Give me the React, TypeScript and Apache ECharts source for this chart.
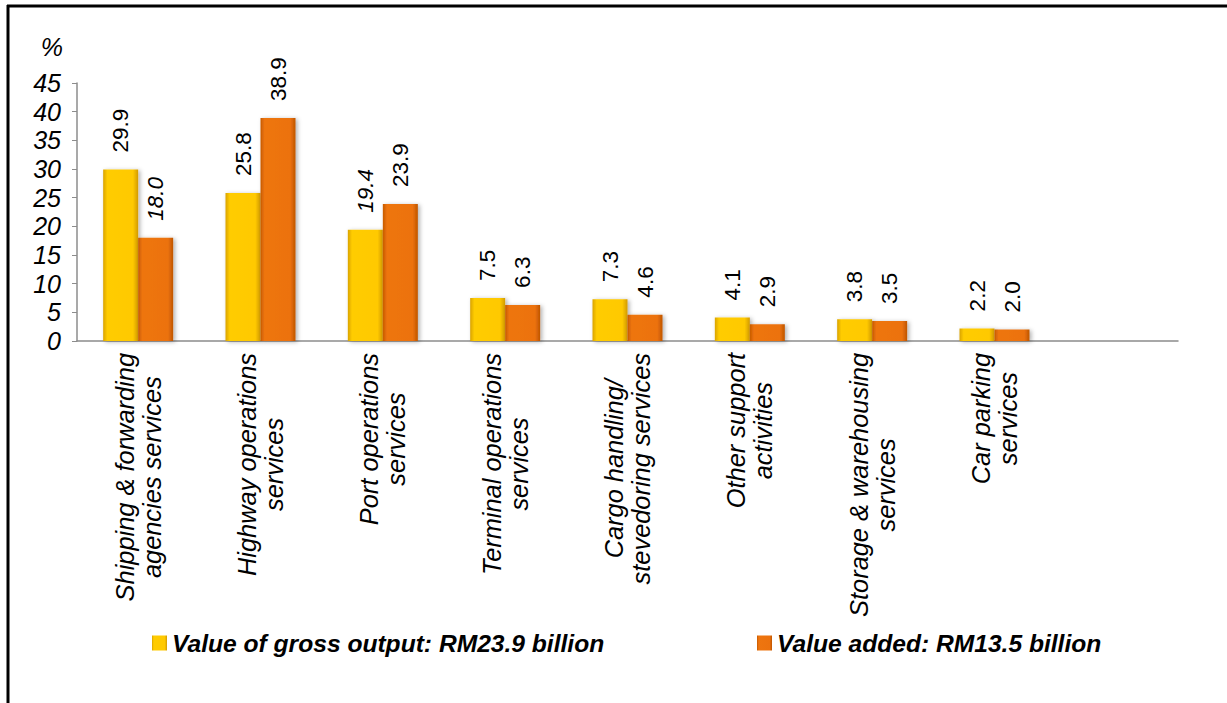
import React, { useEffect, useRef } from "react";
import * as echarts from "echarts";

const categories = [
  "Shipping & forwarding\nagencies services",
  "Highway operations\nservices",
  "Port operations\nservices",
  "Terminal operations\nservices",
  "Cargo handling/\nstevedoring services",
  "Other support\nactivities",
  "Storage & warehousing\nservices",
  "Car parking\nservices",
  "",
];
const grossOutput = [29.9, 25.8, 19.4, 7.5, 7.3, 4.1, 3.8, 2.2];
const valueAdded = [18.0, 38.9, 23.9, 6.3, 4.6, 2.9, 3.5, 2.0];
const grossItalic = [2];
const addedItalic = [0];
const yTicks = { min: 0, max: 45, interval: 5 };
const seriesNames = [
  "Value of gross output: RM23.9 billion",
  "Value added: RM13.5 billion",
];

const FONT = "'Liberation Sans', Arial, sans-serif";

export default function App() {
  const ref = useRef<HTMLDivElement>(null);
  useEffect(() => {
    if (!ref.current) return;
    const chart = echarts.init(ref.current, undefined, { renderer: "svg" });
    const yellow = new echarts.graphic.LinearGradient(0, 0, 1, 0, [
      { offset: 0, color: "#D9A300" },
      { offset: 0.12, color: "#FFCC00" },
      { offset: 0.85, color: "#FFC900" },
      { offset: 1, color: "#D29A00" },
    ]);
    const orange = new echarts.graphic.LinearGradient(0, 0, 1, 0, [
      { offset: 0, color: "#C75A00" },
      { offset: 0.12, color: "#EE750F" },
      { offset: 0.85, color: "#EC720E" },
      { offset: 1, color: "#BF5500" },
    ]);
    const mk = (vals: number[], italics: number[]) =>
      vals.map((v, i) =>
        italics.includes(i)
          ? { value: v, label: { fontStyle: "italic" } }
          : { value: v }
      );
    const barLabel = {
      show: true,
      position: "top",
      rotate: 90,
      align: "left",
      verticalAlign: "middle",
      distance: 14,
      offset: [3, 0],
      fontSize: 22.5,
      fontFamily: FONT,
      color: "#000",
      formatter: (p: any) => Number(p.value).toFixed(1),
    };
    const shadow = {
      shadowBlur: 4,
      shadowOffsetX: 2,
      shadowOffsetY: 1,
      shadowColor: "rgba(0,0,0,0.3)",
    };
    const legendText = {
      fontSize: 24.6,
      fontWeight: "bold",
      fontStyle: "italic",
      fontFamily: FONT,
      color: "#000",
      lineHeight: 28,
    };
    chart.setOption({
      animation: false,
      backgroundColor: "#fff",
      grid: { left: 77, right: 49, top: 83, bottom: 362, containLabel: false },
      legend: [
        {
          data: [seriesNames[0]],
          left: 147,
          top: 624,
          itemWidth: 15,
          itemHeight: 15,
          icon: "rect",
          textStyle: legendText,
        },
        {
          data: [seriesNames[1]],
          left: 752,
          top: 624,
          itemWidth: 15,
          itemHeight: 15,
          icon: "rect",
          textStyle: legendText,
        },
      ],
      xAxis: {
        type: "category",
        data: categories,
        axisLine: { lineStyle: { color: "#8C8C8C", width: 1.5 } },
        axisTick: { show: false },
        axisLabel: {
          interval: 0,
          rotate: 90,
          margin: 12,
          color: "#000",
          fontSize: 25.4,
          fontStyle: "italic",
          fontFamily: FONT,
          lineHeight: 27,
          formatter: (v: string) =>
            v
              .split("\n")
              .map((l) => `{c|${l}}`)
              .join("\n"),
          rich: {
            c: {
              align: "center",
              fontSize: 25.4,
              fontStyle: "italic",
              fontFamily: FONT,
              color: "#000",
              lineHeight: 27,
            },
          },
        },
      },
      yAxis: {
        type: "value",
        min: yTicks.min,
        max: yTicks.max,
        interval: yTicks.interval,
        name: "%",
        nameLocation: "end",
        nameGap: 24,
        nameTextStyle: {
          fontSize: 25,
          fontStyle: "italic",
          fontFamily: FONT,
          color: "#000",
          align: "right",
          padding: [0, 14, 0, 0],
        },
        axisLine: { show: true, lineStyle: { color: "#8C8C8C", width: 1.5 } },
        axisTick: { show: true, length: 5, lineStyle: { color: "#8C8C8C" } },
        splitLine: { show: false },
        axisLabel: {
          margin: 16,
          color: "#000",
          fontSize: 25,
          fontStyle: "italic",
          fontFamily: FONT,
        },
      },
      series: [
        {
          name: seriesNames[0],
          type: "bar",
          data: mk(grossOutput, grossItalic),
          barWidth: 35,
          barGap: "0%",
          itemStyle: { color: yellow, ...shadow },
          label: barLabel,
        },
        {
          name: seriesNames[1],
          type: "bar",
          data: mk(valueAdded, addedItalic),
          barWidth: 35,
          barGap: "0%",
          itemStyle: { color: orange, ...shadow },
          label: barLabel,
        },
      ],
      graphic: [
        {
          type: "line",
          shape: { x1: 7, y1: 6, x2: 1227, y2: 6 },
          style: { stroke: "#000", lineWidth: 3 },
        },
        {
          type: "line",
          shape: { x1: 8, y1: 5, x2: 8, y2: 703 },
          style: { stroke: "#000", lineWidth: 3 },
        },
      ],
    });
    return () => chart.dispose();
  }, []);
  return (
    <div
      ref={ref}
      style={{ position: "fixed", left: 0, top: 0, width: 1227, height: 703 }}
    />
  );
}
